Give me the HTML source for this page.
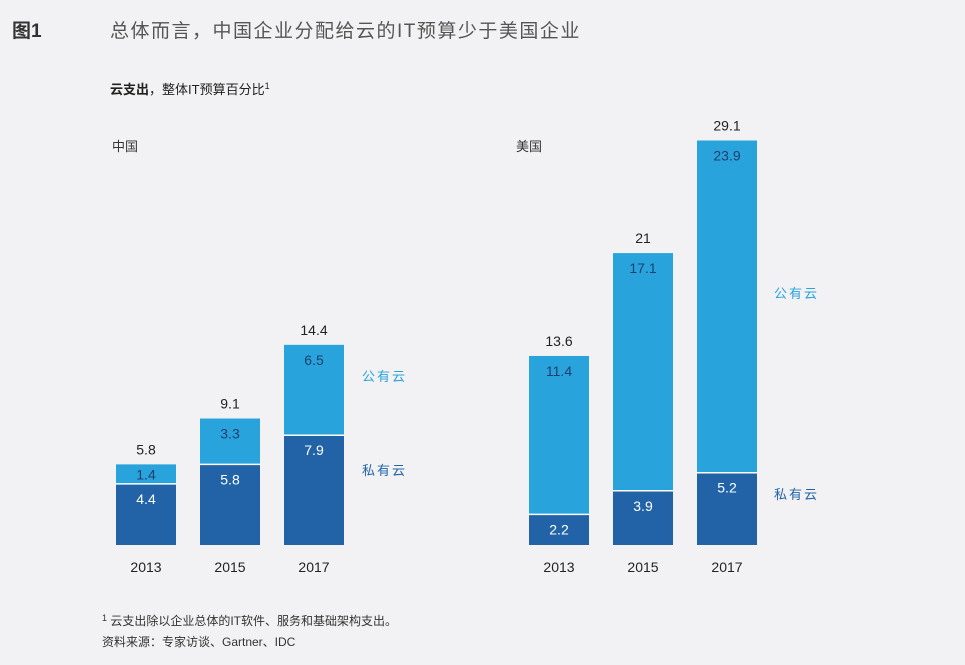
<!DOCTYPE html>
<html><head><meta charset="utf-8"><style>
body{margin:0;background:#f2f2f4;}
svg{display:block;font-family:"Liberation Sans","Noto Sans CJK SC",sans-serif;}
</style></head><body>
<svg width="965" height="665" viewBox="0 0 965 665">
<rect width="965" height="665" fill="#f2f2f4"/>
<text x="12" y="37" font-size="19" font-weight="bold" fill="#333">图1</text>
<text x="110" y="37" font-size="19" fill="#555" letter-spacing="1.5">总体而言，中国企业分配给云的IT预算少于美国企业</text>
<text x="110" y="94" font-size="13" fill="#222"><tspan font-weight="bold">云支出</tspan>，整体IT预算百分比<tspan font-size="9" dy="-5">1</tspan></text>
<text x="112" y="151" font-size="13" fill="#333">中国</text>
<text x="516" y="151" font-size="13" fill="#333">美国</text>
<g id="bars"></g>
<text x="362" y="381" font-size="13" fill="#29a3dc" letter-spacing="2">公有云</text>
<text x="362" y="475" font-size="13" fill="#2263a8" letter-spacing="2">私有云</text>
<text x="774" y="298" font-size="13" fill="#29a3dc" letter-spacing="2">公有云</text>
<text x="774" y="499" font-size="13" fill="#2263a8" letter-spacing="2">私有云</text>
<text x="102" y="625" font-size="12" fill="#333"><tspan font-size="9" dy="-4">1</tspan><tspan dy="4"> 云支出除以企业总体的IT软件、服务和基础架构支出。</tspan></text>
<text x="102" y="646" font-size="12" fill="#333">资料来源：专家访谈、Gartner、IDC</text>
</svg>
<script>
const years = ["2013","2015","2017"];
const chinaPrivate = [4.4, 5.8, 7.9];
const chinaPublic = [1.4, 3.3, 6.5];
const chinaTotal = ["5.8","9.1","14.4"];
const usPrivate = [2.2, 3.9, 5.2];
const usPublic = [11.4, 17.1, 23.9];
const usTotal = ["13.6","21","29.1"];
const NS="http://www.w3.org/2000/svg";
const g=document.getElementById('bars');
const base=545, scale=13.9;
function y(v){return base-v*scale;}
function el(tag,attrs,txt){const e=document.createElementNS(NS,tag);for(const k in attrs)e.setAttribute(k,attrs[k]);if(txt!==undefined)e.textContent=txt;g.appendChild(e);return e;}
function panel(prefix,x0,priv,pub,tot){
  years.forEach((yr,i)=>{
    const x=x0+i*84, w=60, cx=x+30;
    const p=priv[i], q=pub[i];
    const r1=el('rect',{x:x,y:y(p),width:w,height:p*scale,fill:'#2263a8'});
    
    
    const r2=el('rect',{x:x,y:y(p+q),width:w,height:q*scale,fill:'#29a3dc'});
    
    
    el('line',{x1:x,x2:x+w,y1:y(p),y2:y(p),stroke:'#fff','stroke-width':1.5});
    const t1=el('text',{x:cx,y:y(p)+20,'text-anchor':'middle','font-size':14,fill:'#fff'},p.toFixed(1));
    
    
    const t2=el('text',{x:cx,y:y(p+q)+(q*scale<25?15:20),'text-anchor':'middle','font-size':14,fill:'#1d3f6e'},q.toFixed(1));
    
    
    const t3=el('text',{x:cx,y:y(p+q)-10,'text-anchor':'middle','font-size':14,fill:'#222'},tot[i]);
    
    
    const t4=el('text',{x:cx,y:572,'text-anchor':'middle','font-size':14,fill:'#222'},yr);
    
    
  });
}
panel('china',116,chinaPrivate,chinaPublic,chinaTotal);
panel('us',529,usPrivate,usPublic,usTotal);
</script>
</body></html>
